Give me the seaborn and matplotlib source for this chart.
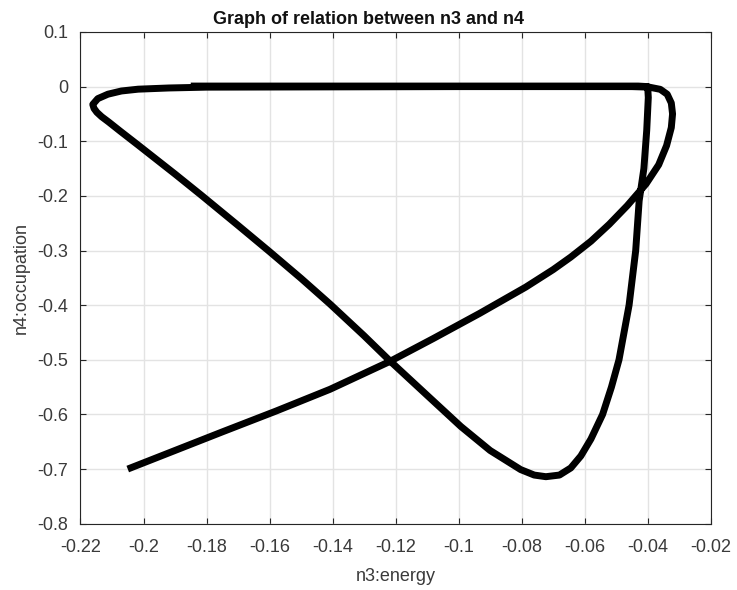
import matplotlib
matplotlib.use("Agg")
import matplotlib.pyplot as plt
import seaborn as sns
import pandas as pd

# path of the trajectory (n3:energy, n4:occupation), in drawing order
n3_energy = [
    # rising branch
    -0.205, -0.19, -0.175, -0.158, -0.1408, -0.1218, -0.108, -0.0933, -0.0787,
    -0.07, -0.0644, -0.058, -0.0522, -0.0465, -0.0405, -0.0365, -0.034, -0.0325,
    -0.0321, -0.0325, -0.0338, -0.036, -0.0395, -0.045,
    # top line to the left curl
    -0.07, -0.10, -0.14, -0.18, -0.192, -0.2017, -0.207, -0.2113, -0.2145,
    -0.2161, -0.2157, -0.2148, -0.2133, -0.211, -0.2075, -0.2017,
    # descending branch
    -0.19, -0.1816, -0.17, -0.16, -0.15, -0.1408, -0.13, -0.1218, -0.11,
    -0.0993, -0.09, -0.0803, -0.076, -0.0723, -0.068, -0.0644, -0.0612,
    -0.058, -0.0543, -0.0515, -0.0491, -0.0459, -0.0438, -0.0427, -0.0412,
    -0.0403, -0.0398, -0.0400,
    # back along the top
    -0.043, -0.07, -0.12, -0.185,
]
n4_occupation = [
    -0.700, -0.666, -0.632, -0.594, -0.554, -0.503, -0.461, -0.415, -0.367,
    -0.335, -0.312, -0.283, -0.252, -0.218, -0.178, -0.143, -0.108, -0.075,
    -0.050, -0.030, -0.014, -0.005, -0.001, 0.0,
    0.0, 0.0, -0.0005, -0.001, -0.0025, -0.0047, -0.008, -0.0139, -0.022,
    -0.0326, -0.040, -0.047, -0.055, -0.065, -0.081, -0.107,
    -0.160, -0.199, -0.254, -0.302, -0.351, -0.398, -0.456, -0.502, -0.565,
    -0.622, -0.666, -0.701, -0.711, -0.714, -0.711, -0.698, -0.676,
    -0.645, -0.600, -0.550, -0.500, -0.400, -0.300, -0.209, -0.150,
    -0.080, -0.020, 0.000,
    0.001, 0.001, 0.001, 0.001,
]

title = "Graph of relation between n3 and n4"
xlabel = "n3:energy"
ylabel = "n4:occupation"
xticks = [-0.22, -0.2, -0.18, -0.16, -0.14, -0.12, -0.1, -0.08, -0.06, -0.04, -0.02]
yticks = [0.1, 0, -0.1, -0.2, -0.3, -0.4, -0.5, -0.6, -0.7, -0.8]

sns.set_theme(style="whitegrid")
plt.rcParams['font.family'] = ['Liberation Sans', 'DejaVu Sans']

df = pd.DataFrame({"x": n3_energy, "y": n4_occupation})

fig = plt.figure(figsize=(7.37, 5.9), dpi=100)
ax = fig.add_axes([0.1092, 0.1124, 0.8551, 0.8334])
sns.lineplot(data=df, x="x", y="y", sort=False, estimator=None, color="black",
             linewidth=5.0, ax=ax, solid_joinstyle="round", solid_capstyle="butt")

ax.set_xlim(-0.22, -0.02)
ax.set_ylim(-0.8, 0.1)
ax.set_xticks(xticks)
ax.set_xticklabels([f"{t:g}" for t in xticks])
ax.set_yticks(yticks)
ax.set_yticklabels([f"{t:g}" for t in yticks])
ax.grid(True, color="#e3e3e3", linewidth=1.0)
for s in ax.spines.values():
    s.set_color("#262626")
    s.set_linewidth(0.8)
ax.tick_params(axis="both", labelsize=13, colors="#262626", labelcolor="#3a3a3a",
               direction="in", length=4, width=0.8,
               top=True, right=True, bottom=True, left=True)
ax.tick_params(axis="x", pad=11)
ax.tick_params(axis="y", pad=9)
ax.set_title(title, fontsize=13, fontweight="bold", pad=6, x=0.4577, color="#111111")
ax.set_xlabel(xlabel, fontsize=13, color="#3a3a3a", labelpad=9)
ax.set_ylabel(ylabel, fontsize=13, color="#3a3a3a", labelpad=5)

fig.savefig("out.png", dpi=100)
